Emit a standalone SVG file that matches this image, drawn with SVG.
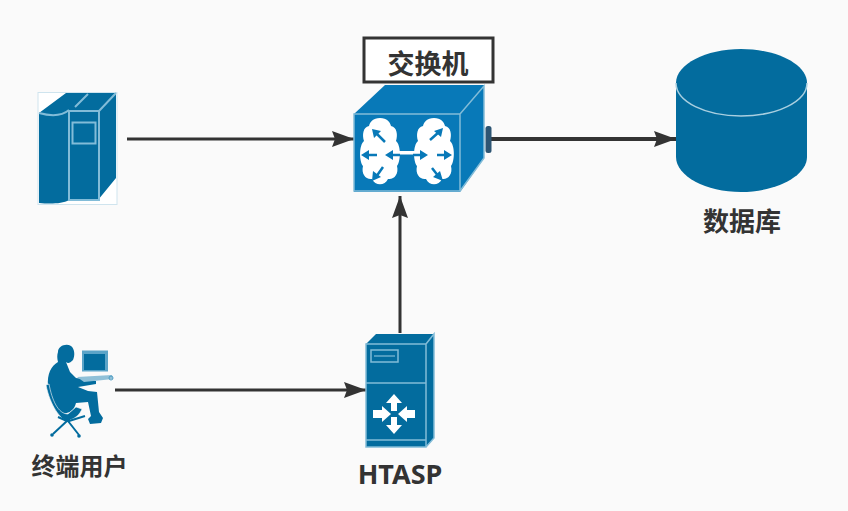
<svg xmlns="http://www.w3.org/2000/svg" width="848" height="511" viewBox="0 0 848 511">
<style>
.t{font-family:"Noto Sans","Noto Sans CJK SC",sans-serif;font-weight:700;fill:#333;text-anchor:middle}
.f{fill:#036c9e}
.b{fill:#0879b8}
.l{fill:none;stroke:#82bcd8;stroke-width:1.500}
.w{fill:#fff}
.c{fill:none;stroke:#333;stroke-width:3}
.a{fill:#0879b8}
</style>
<defs>
<marker id="h" markerUnits="userSpaceOnUse" markerWidth="26" markerHeight="20" refX="22" refY="9" orient="auto"><path d="M0 1L22 9L0 17L3 9Z" fill="#333"/></marker>
<g id="cloud"><path class="w" d="M0-34C-7-34-10-30-11-26C-17-25-18-17-16-11C-21-7-21 9-17 14C-19 22-14 28-8 27C-5 34 5 34 8 27C14 28 19 22 17 14C21 9 21-7 16-11C18-17 17-25 11-26C10-30 7-34 0-34Z"/></g>
</defs>
<rect width="848" height="511" fill="#fafafa"/>
<g id="connectors">
<path class="c" d="M127 139H354" marker-end="url(#h)"/>
<path class="c" d="M400 333V196" marker-end="url(#h)"/>
<path class="c" d="M115 390H366" marker-end="url(#h)"/>
<path class="c" style="stroke-width:4" d="M491 139H676" marker-end="url(#h)"/>
</g>
<g id="server">
<rect x="38" y="92.500" width="79" height="112" fill="#fff" stroke="#cfe4ee" stroke-width="1"/>
<path class="f" d="M39 113L66 93H116V178L98 200H69C62 204 50 204 39 203Z"/>
<path class="l" style="stroke-width:2" d="M69 111H99V200H69ZM99 111L116 93M72.500 122.500H95.500V143.500H72.500ZM39 113C50 116 62 116 69 110M75 107L88 94"/>
</g>
<g id="switch">
<path d="M354 114L385 85H484V158L460 192H354Z" class="b"/>
<rect x="485.500" y="126" width="6" height="27" rx="2.500" fill="#2d5573"/>
<path class="l" d="M354 114H460V191H354ZM460 114L484 86V158L460 191"/>
<use href="#cloud" transform="translate(380 152)"/>
<use href="#cloud" transform="translate(434 152)"/>
<rect x="398" y="151" width="17" height="3.500" fill="#fff"/>
<path fill="none" stroke="#0879b8" stroke-width="2.500" d="M366 155H377M389 155H400M413 155H423M437 155H448M376 133L385 142M376 177L383 167M439 132L430 140M439 177L432 168"/>
<path class="a" d="M361 155L369 150V160ZM385 155L393 150V160ZM428 155L420 150V160ZM452 155L444 150V160ZM372 129L381 131L374 138ZM372 181L373 171L381 177ZM443 128L441 137L434 131ZM443 181L433 177L440 171Z"/>
</g>
<g id="database">
<path class="f" d="M676 83C676 64 706 49 741 49S807 64 807 83V157C807 176 776 192 741 192S676 176 676 157Z"/>
<path fill="none" stroke="#a9cfe0" stroke-width="1.500" d="M676 83C676 102 706 116 741 116S807 102 807 83"/>
<text class="t" x="742" y="231" font-size="26">数据库</text>
</g>
<g id="htasp">
<path class="f" d="M366 344L376 334H434V438L426 447H366Z"/>
<path class="l" d="M366 344H426V447H366ZM426 344L434 334V438L426 447M366 383H426M366 440H426"/>
<rect x="371" y="350" width="27" height="12" fill="none" stroke="#82bcd8" stroke-width="1.500"/>
<path fill="none" stroke="#82bcd8" stroke-width="1.200" d="M374 356H395"/>
<path class="w" d="M394 394L402 403H397V411H391V403H386ZM394 434L386 425H391V417H397V425H402ZM391 414L382 406V410H373V418H382V422ZM398 414L407 406V410H415V418H407V422Z"/>
<text class="t" x="400" y="484" font-size="27">HTASP</text>
</g>
<g id="user">
<path class="f" d="M58 352C58 346 66 343 71 346C75 349 75 356 73 360C70 363 68 364 66 362L70 372L76 378L96 381V384L78 387L88 391L97 392L99 412L103 418L101 423L90 424L88 419L91 416L88 402L76 403C74 412 66 415 60 412C54 408 48 395 48 386C47 374 51 366 58 362C57 358 57 355 58 352Z"/>
<path d="M46 385L49 384C52 400 58 414 68 414L76 407L82 409C80 414 76 418 70 420L70 423C60 420 50 405 46 385Z" class="f" stroke="#fafafa" stroke-width=".6"/>
<path fill="none" stroke="#036c9e" stroke-width="2" d="M68 420L53 434M68 421L79 435M67 421L58 417M69 421L85 416"/>
<circle cx="52" cy="435" r="1.800" class="f"/><circle cx="79" cy="436" r="1.800" class="f"/>
<rect x="82" y="350.500" width="26" height="21" fill="#5ba4c8"/><rect x="84" y="354" width="21" height="16" class="f"/>
<path d="M77 377L112 375L113 379L84 382Z" fill="#8fc0d8"/>
<circle cx="111" cy="378" r="2" fill="none" stroke="#4d9cc2" stroke-width="1"/>
<text class="t" x="79.500" y="475" font-size="24">终端用户</text>
</g>
<g id="label">
<rect x="364" y="38" width="129" height="44" fill="#fff" stroke="#333" stroke-width="3"/>
<text class="t" x="428" y="74" font-size="27">交换机</text>
</g>
</svg>
